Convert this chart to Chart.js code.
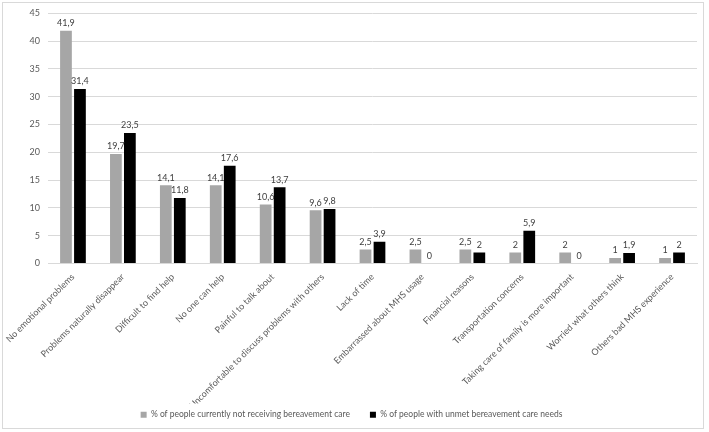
<!DOCTYPE html>
<html>
<head>
<meta charset="utf-8">
<script src="https://cdn.jsdelivr.net/npm/chart.js@4.4.0/dist/chart.umd.min.js"></script>
<style>
html,body{margin:0;padding:0;background:#fff;}
#wrap{position:absolute;left:0;top:0;width:709px;height:432px;}
</style>
</head>
<body>
<div id="wrap"><canvas id="c" width="709" height="432"></canvas></div>
<script>
const categories = [
  "No emotional problems",
  "Problems naturally disappear",
  "Difficult to find help",
  "No one can help",
  "Painful to talk about",
  "Uncomfortable to discuss problems with others",
  "Lack of time",
  "Embarrassed about MHS usage",
  "Financial reasons",
  "Transportation concerns",
  "Taking care of family is more important",
  "Worried what others think",
  "Others bad MHS experience"
];
const notReceiving = [41.9, 19.7, 14.1, 14.1, 10.6, 9.6, 2.5, 2.5, 2.5, 2, 2, 1, 1];
const unmetNeeds = [31.4, 23.5, 11.8, 17.6, 13.7, 9.8, 3.9, 0, 2, 5.9, 0, 1.9, 2];
const seriesNames = [
  "% of people currently not receiving bereavement care",
  "% of people with unmet bereavement care needs"
];
const yTicks = [0, 5, 10, 15, 20, 25, 30, 35, 40, 45];

const FONT = "Lato, 'Liberation Sans', sans-serif";
const TXT = "#595959";

const valueLabels = {
  id: 'valueLabels',
  afterDatasetsDraw(chart) {
    const ctx = chart.ctx;
    ctx.save();
    ctx.font = "9px " + FONT;
    ctx.fillStyle = "#404040";
    ctx.textAlign = "center";
    ctx.textBaseline = "bottom";
    chart.data.datasets.forEach((ds, i) => {
      const meta = chart.getDatasetMeta(i);
      meta.data.forEach((el, j) => {
        const v = ds.data[j];
        ctx.fillText(String(v).replace('.', ','), el.x, el.y - 3);
      });
    });
    ctx.restore();
  }
};

const frame = {
  id: 'frame',
  beforeDraw(chart) {
    const ctx = chart.ctx;
    ctx.save();
    ctx.fillStyle = "#fff";
    ctx.fillRect(0, 0, chart.width, chart.height);
    ctx.strokeStyle = "#d9d9d9";
    ctx.lineWidth = 1;
    ctx.strokeRect(2.5, 2.5, 701, 426);
    ctx.restore();
  }
};

new Chart(document.getElementById('c'), {
  type: 'bar',
  data: {
    labels: categories,
    datasets: [
      { label: seriesNames[0], data: notReceiving, backgroundColor: "#a6a6a6", borderWidth: 0 },
      { label: seriesNames[1], data: unmetNeeds, backgroundColor: "#000000", borderWidth: 0 }
    ]
  },
  options: {
    responsive: false,
    animation: false,
    devicePixelRatio: 1,
    datasets: { bar: { categoryPercentage: 0.56, barPercentage: 0.84 } },
    layout: { padding: { left: 6, right: 12, top: 12, bottom: 3 } },
    plugins: {
      legend: {
        position: 'bottom',
        labels: {
          boxWidth: 6, boxHeight: 6, padding: 7,
          color: TXT, font: { family: FONT, size: 8.5 },
          generateLabels(chart) {
            const items = Chart.defaults.plugins.legend.labels.generateLabels(chart);
            items[0].text = items[0].text + "      ";
            return items;
          }
        }
      },
      tooltip: { enabled: false }
    },
    scales: {
      x: {
        grid: { display: false },
        border: { display: true, color: "#d9d9d9" },
        ticks: {
          color: TXT, font: { family: FONT, size: 9 },
          maxRotation: 45, minRotation: 45, autoSkip: false, padding: 0
        },
        afterFit(s) { s.height = 140; }
      },
      y: {
        min: 0, max: 45,
        afterBuildTicks(s) { s.ticks = yTicks.map(v => ({ value: v })); },
        grid: { color: "#d9d9d9", drawTicks: false },
        border: { display: false },
        ticks: { color: TXT, font: { family: FONT, size: 9 }, padding: 8 },
        afterFit(s) { s.width = 42; }
      }
    }
  },
  plugins: [frame, valueLabels]
});
</script>
</body>
</html>
